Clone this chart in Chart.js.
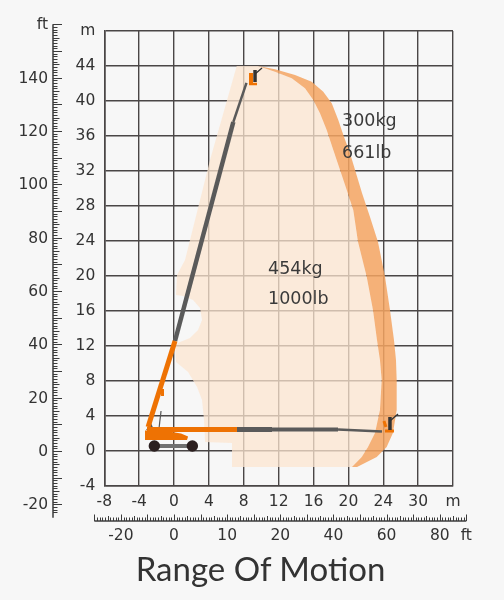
<!DOCTYPE html>
<html>
<head>
<meta charset="utf-8">
<script src="https://cdn.jsdelivr.net/npm/chart.js@4.4.0/dist/chart.umd.min.js"></script>
<style>
  html, body { margin: 0; padding: 0; background: #f7f7f7; }
  #wrap { position: relative; width: 504px; height: 600px; }
  #title {
    position: absolute; left: 0; top: 549px; width: 521px;
    text-align: center; font-family: Lato, sans-serif; font-size: 33px;
    line-height: 1.2; color: #333;
  }
</style>
</head>
<body>
<div id="wrap">
  <canvas id="myChart" width="504" height="600"></canvas>
  <div id="title">Range Of Motion</div>
</div>
<script>
// axis ticks (metres), labels as printed on the drawing
var xTicks = [-8, -4, 0, 4, 8, 12, 16, 20, 24, 28, 32];
var xTickLabels = ['-8', '-4', '0', '4', '8', '12', '16', '20', '24', '30', 'm'];
var yTicks = [-4, 0, 4, 8, 12, 16, 20, 24, 28, 32, 36, 40, 44, 48];
var yTickLabels = ['-4', '0', '4', '8', '12', '16', '20', '24', '28', '32', '36', '40', '44', 'm'];

// feet rulers
var FT = 0.3048;
var ftLeftTicks = [-20, 0, 20, 40, 60, 80, 100, 120, 140, 160];
var ftLeftLabels = ['-20', '0', '20', '40', '60', '80', '100', '120', '140', 'ft'];
var ftBottomTicks = [-20, 0, 20, 40, 60, 80, 100, 110];
var ftBottomLabels = ['-20', '0', '10', '20', '40', '60', '80', 'ft'];

// working envelope, 454kg (inner edge, top -> bottom)
var innerX = [9.63, 11.58, 13.50, 15.02, 15.97, 16.74, 17.51, 18.27, 19.04, 19.81, 20.56, 21.10, 22.10, 22.82, 23.28, 23.62, 23.82, 23.62, 23.05, 22.25, 21.53, 20.41];
var innerY = [44, 43.35, 42.59, 41.45, 40.11, 38.59, 36.69, 34.40, 32.11, 29.83, 27.54, 23.92, 19.92, 16.11, 12.69, 10.40, 8.11, 4.69, 2.06, 0.46, -0.69, -1.83];
// rest of the 454kg outline (bottom -> round the left side -> top)
var edgeX = [6.65, 6.65, 3.56, 3.44, 3.21, 2.64, 1.61, 0.23, 0.11, 0.69, 1.83, 2.75, 3.21, 2.98, 2.18, 1.03, 0.23, 0.34, 1.26, 4.13, 7.19];
var edgeY = [-1.83, 0.91, 1.03, 3.54, 5.83, 7.31, 9.03, 10.17, 12.11, 12.46, 12.91, 13.83, 14.97, 16.34, 17.26, 17.71, 17.83, 20.11, 21.83, 33.26, 44];
// 300kg outer edge (top -> bottom)
var outerX = [9.63, 11.58, 13.88, 15.79, 17.12, 18.09, 18.84, 19.50, 20.18, 20.87, 21.56, 22.48, 23.39, 24.20, 24.77, 25.23, 25.46, 25.54, 25.54, 25.11, 24.39, 23.25, 20.99];
var outerY = [44, 43.62, 42.97, 42.21, 41.06, 39.74, 37.83, 35.89, 34.06, 31.77, 29.49, 26.74, 23.92, 19.92, 16.11, 12.69, 10.40, 8.11, 4.69, 2.06, 0.46, -0.69, -1.83];

// machine sketch
var liftBoomX = [-2.98, 0.11], liftBoomY = [2.74, 12.57];
var upperBoomX = [0.11, 6.80], upperBoomY = [12.57, 37.6];
var flyBoomX = [6.80, 8.31], flyBoomY = [37.6, 42.06];
var hBoomX = [-3.10, 7.22], hBoomY = [2.46, 2.46];
var hGrey1X = [7.22, 11.24], hGrey1Y = [2.46, 2.46];
var hGrey2X = [11.24, 18.81], hGrey2Y = [2.46, 2.46];
var hFlyX = [18.81, 23.85], hFlyY = [2.46, 2.23];
var chassisX = [-3.33, -1.26, 0.80, 1.61, 1.49, -3.33];
var chassisY = [2.34, 2.34, 2.0, 1.66, 1.26, 1.26];
var pivotX = [-3.21, -2.64, -2.29], pivotY = [2.4, 3.2, 2.4];
var axleX = [-2.26, 2.10], axleY = [0.57, 0.57];
var wheelX = [-2.26, 2.10], wheelY = [0.57, 0.57];
var rodX = [-1.49, -1.72], rodY = [4.57, 2.63];
var cylX = [-1.32, -1.32], cylY = [7.09, 6.29];
var topBucketX = [8.83, 8.83], topBucketY = [43.2, 41.94];
var topFloorX = [8.60, 9.52], topFloorY = [41.94, 41.94];
var topManX = [9.29, 9.29], topManY = [43.54, 42.17];
var topArmX = [9.29, 10.09], topArmY = [43.09, 43.77];
var sideFloorX = [24.20, 25.23], sideFloorY = [2.29, 2.29];
var sideBucketX = [24.08, 24.31], sideBucketY = [3.43, 2.74];
var sideManX = [24.77, 24.77], sideManY = [3.89, 2.4];
var sideArmX = [24.77, 25.69], sideArmY = [3.43, 4.23];

// load notes
var noteLabels = ['300kg', '661lb', '454kg', '1000lb'];
var noteX = [19.27, 19.27, 10.78, 10.78];
var noteY = [37.7, 34.06, 20.8, 17.37];

var ORANGE = '#ee7203';
var GREY = '#5a5a5a';
var GRID = '#4a4646';
var TEXT = '#333';

var toPoints = (xs, ys) => xs.map((x, i) => ({ x: x, y: ys[i] }));

var seg = (xs, ys, color, width, order) => {
    return {
        data: toPoints(xs, ys),
        showLine: true,
        borderColor: color,
        borderWidth: width,
        borderCapStyle: 'butt',
        pointRadius: 0,
        fill: false,
        order: order
    };
}

var poly = (xs, ys, color, order) => {
    return {
        data: toPoints(xs, ys),
        showLine: true,
        borderColor: 'rgba(0,0,0,0)',
        borderWidth: 0,
        backgroundColor: color,
        fill: 'shape',
        pointRadius: 0,
        order: order
    };
}

var lightX = innerX.concat(edgeX);
var lightY = innerY.concat(edgeY);
var bandX = outerX.concat(innerX.slice().reverse());
var bandY = outerY.concat(innerY.slice().reverse());

var datasets = [
    {
        data: toPoints(wheelX, wheelY),
        showLine: false,
        pointRadius: 5.7,
        pointBackgroundColor: '#2b1f1f',
        pointBorderWidth: 0,
        order: 1
    },
    seg(topManX, topManY, '#333', 3.5, 2),
    seg(topArmX, topArmY, '#333', 1.3, 2),
    seg(sideManX, sideManY, '#333', 3.5, 2),
    seg(sideArmX, sideArmY, '#333', 1.3, 2),
    seg(topBucketX, topBucketY, ORANGE, 4, 3),
    seg(topFloorX, topFloorY, ORANGE, 2.5, 3),
    seg(sideFloorX, sideFloorY, ORANGE, 3, 3),
    seg(sideBucketX, sideBucketY, ORANGE, 3, 3),
    seg(liftBoomX, liftBoomY, ORANGE, 5, 4),
    seg(upperBoomX, upperBoomY, GREY, 4.5, 4),
    seg(flyBoomX, flyBoomY, GREY, 2.5, 4),
    seg(hBoomX, hBoomY, ORANGE, 5, 4),
    seg(hGrey1X, hGrey1Y, GREY, 5, 4),
    seg(hGrey2X, hGrey2Y, GREY, 4, 4),
    seg(hFlyX, hFlyY, GREY, 2.5, 4),
    seg(cylX, cylY, ORANGE, 3, 4),
    poly(pivotX, pivotY, '#555', 5),
    poly(chassisX, chassisY, ORANGE, 6),
    seg(rodX, rodY, '#555', 1.2, 6),
    seg(axleX, axleY, '#707070', 4, 7),
    poly(bandX, bandY, 'rgba(244,164,98,0.85)', 8),
    poly(lightX, lightY, 'rgba(252,230,208,0.75)', 9)
];

var rulerPlugin = {
    id: 'ftRulers',
    afterDraw: (chart) => {
        const ctx = chart.ctx;
        const xs = chart.scales.x;
        const ys = chart.scales.y;
        ctx.save();
        ctx.strokeStyle = '#3b3b3b';
        ctx.fillStyle = TEXT;
        ctx.font = '15.5px "DejaVu Sans"';

        // left ruler (ft)
        const lx = 53;
        ctx.lineWidth = 1.5;
        ctx.beginPath();
        ctx.moveTo(lx, ys.getPixelForValue(-25 * FT));
        ctx.lineTo(lx, ys.getPixelForValue(160 * FT));
        ctx.stroke();
        ctx.lineWidth = 1;
        ctx.beginPath();
        for (let f = -23; f <= 160; f++) {
            const py = Math.round(ys.getPixelForValue(f * FT)) + 0.5;
            const len = f % 10 === 0 ? 9 : (f % 5 === 0 ? 6.5 : 4.5);
            ctx.moveTo(lx, py);
            ctx.lineTo(lx + len, py);
        }
        ctx.stroke();
        ctx.textAlign = 'right';
        ctx.textBaseline = 'middle';
        for (let i = 0; i < ftLeftTicks.length; i++) {
            ctx.fillText(ftLeftLabels[i], 48, ys.getPixelForValue(ftLeftTicks[i] * FT) + 1);
        }

        // bottom ruler (ft)
        const by = 521;
        ctx.lineWidth = 1.5;
        ctx.beginPath();
        ctx.moveTo(xs.getPixelForValue(-30 * FT), by);
        ctx.lineTo(xs.getPixelForValue(110 * FT), by);
        ctx.stroke();
        ctx.lineWidth = 1;
        ctx.beginPath();
        for (let f = -30; f <= 110; f++) {
            const px = Math.round(xs.getPixelForValue(f * FT)) + 0.5;
            const len = f % 10 === 0 ? 6.5 : (f % 5 === 0 ? 5 : 3.5);
            ctx.moveTo(px, by);
            ctx.lineTo(px, by - len);
        }
        ctx.stroke();
        ctx.textAlign = 'center';
        for (let i = 0; i < ftBottomTicks.length; i++) {
            ctx.fillText(ftBottomLabels[i], xs.getPixelForValue(ftBottomTicks[i] * FT), 535.5);
        }

        // load notes
        ctx.font = '17.5px "DejaVu Sans"';
        ctx.fillStyle = '#3a3a3a';
        ctx.textAlign = 'left';
        for (let i = 0; i < noteLabels.length; i++) {
            ctx.fillText(noteLabels[i], xs.getPixelForValue(noteX[i]), ys.getPixelForValue(noteY[i]));
        }
        ctx.restore();
    }
}

var tickFont = { family: 'DejaVu Sans', size: 15.5 };

window.onload = () => {
    var ctx = document.getElementById('myChart').getContext('2d');
    new Chart(ctx, {
        type: 'scatter',
        data: { datasets: datasets },
        plugins: [rulerPlugin],
        options: {
            responsive: false,
            animation: false,
            layout: { padding: { left: 0, right: 51, top: 31, bottom: 0 } },
            plugins: {
                legend: { display: false },
                tooltip: { enabled: false },
                title: { display: false }
            },
            scales: {
                x: {
                    type: 'linear',
                    min: -8,
                    max: 32,
                    afterBuildTicks: (scale) => { scale.ticks = xTicks.map(v => ({ value: v })); },
                    afterFit: (scale) => { scale.height = 114; },
                    ticks: {
                        callback: (v) => xTickLabels[xTicks.indexOf(v)],
                        font: tickFont,
                        color: TEXT,
                        padding: 7,
                        maxRotation: 0,
                        autoSkip: false
                    },
                    grid: { color: GRID, lineWidth: 1.4, drawTicks: false },
                    border: { color: GRID, width: 1.6 }
                },
                y: {
                    type: 'linear',
                    min: -4,
                    max: 48,
                    afterBuildTicks: (scale) => { scale.ticks = yTicks.map(v => ({ value: v })); },
                    afterFit: (scale) => { scale.width = 104.3; },
                    ticks: {
                        callback: (v) => yTickLabels[yTicks.indexOf(v)],
                        font: tickFont,
                        color: TEXT,
                        padding: 9,
                        autoSkip: false
                    },
                    grid: { color: GRID, lineWidth: 1.4, drawTicks: false },
                    border: { color: GRID, width: 1.6 }
                }
            }
        }
    });
}
</script>
</body>
</html>
